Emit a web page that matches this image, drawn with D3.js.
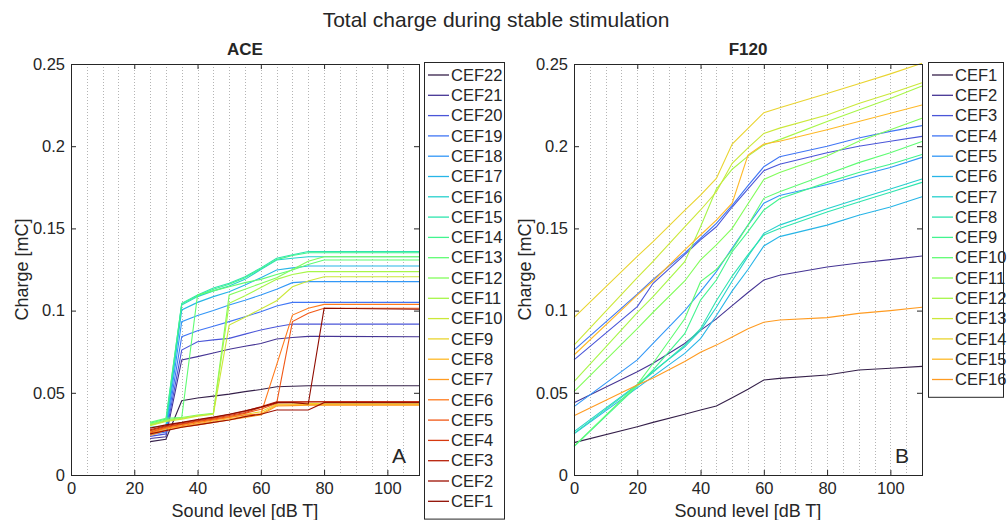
<!DOCTYPE html>
<html>
<head>
<meta charset="utf-8">
<script src="https://cdn.jsdelivr.net/npm/d3@7"></script>
<style>
  body { margin: 0; background: #fff; }
  svg text { font-family: "Liberation Sans", Arial, sans-serif; fill: #262626; }
</style>
</head>
<body>
<div id="chart"></div>
<script>
// ACE: sound levels and total charge per electrode (CEF22 .. CEF1)
const aceLevels = [25, 30, 35, 40, 45, 50, 55, 60, 65, 70, 75, 80, 110];
const aceNames = ['CEF22', 'CEF21', 'CEF20', 'CEF19', 'CEF18', 'CEF17', 'CEF16', 'CEF15', 'CEF14', 'CEF13', 'CEF12',
    'CEF11', 'CEF10', 'CEF9', 'CEF8', 'CEF7', 'CEF6', 'CEF5', 'CEF4', 'CEF3', 'CEF2', 'CEF1'];
const aceCharge = [
    [0.0203, 0.0217, 0.0452, 0.0468, 0.0480, 0.0492, 0.0507, 0.0520, 0.0537, 0.0540, 0.0543, 0.0543, 0.0543],
    [0.0222, 0.0232, 0.0700, 0.0720, 0.0742, 0.0765, 0.0783, 0.0800, 0.0827, 0.0836, 0.0843, 0.0843, 0.0841],
    [0.0235, 0.0250, 0.0760, 0.0811, 0.0822, 0.0831, 0.0857, 0.0882, 0.0902, 0.0918, 0.0918, 0.0918, 0.0918],
    [0.0245, 0.0262, 0.0841, 0.0878, 0.0905, 0.0933, 0.0963, 0.0993, 0.1028, 0.1050, 0.1050, 0.1050, 0.1050],
    [0.0255, 0.0272, 0.0933, 0.0970, 0.1000, 0.1034, 0.1063, 0.1095, 0.1130, 0.1170, 0.1176, 0.1176, 0.1176],
    [0.0265, 0.0285, 0.1004, 0.1050, 0.1085, 0.1115, 0.1155, 0.1200, 0.1247, 0.1260, 0.1271, 0.1271, 0.1271],
    [0.0290, 0.0300, 0.1034, 0.1085, 0.1120, 0.1150, 0.1190, 0.1250, 0.1308, 0.1318, 0.1328, 0.1328, 0.1328],
    [0.0304, 0.0330, 0.1044, 0.1095, 0.1137, 0.1166, 0.1206, 0.1260, 0.1318, 0.1340, 0.1359, 0.1359, 0.1359],
    [0.0315, 0.0340, 0.1040, 0.1090, 0.1130, 0.1160, 0.1200, 0.1255, 0.1310, 0.1335, 0.1352, 0.1352, 0.1352],
    [0.0320, 0.0345, 0.0350, 0.1095, 0.1120, 0.1145, 0.1170, 0.1190, 0.1220, 0.1247, 0.1280, 0.1308, 0.1308],
    [0.0310, 0.0335, 0.0350, 0.0365, 0.0375, 0.1095, 0.1130, 0.1165, 0.1200, 0.1250, 0.1300, 0.1328, 0.1328],
    [0.0305, 0.0330, 0.0345, 0.0360, 0.0372, 0.1044, 0.1090, 0.1140, 0.1190, 0.1220, 0.1237, 0.1237, 0.1237],
    [0.0300, 0.0325, 0.0340, 0.0358, 0.0370, 0.0912, 0.0960, 0.1010, 0.1060, 0.1145, 0.1180, 0.1206, 0.1206],
    [0.0265, 0.0290, 0.0305, 0.0322, 0.0338, 0.0352, 0.0368, 0.0385, 0.0430, 0.0432, 0.0434, 0.0436, 0.0436],
    [0.0250, 0.0280, 0.0295, 0.0312, 0.0328, 0.0342, 0.0357, 0.0372, 0.0425, 0.0427, 0.0428, 0.0428, 0.0428],
    [0.0240, 0.0272, 0.0290, 0.0305, 0.0320, 0.0335, 0.0350, 0.0365, 0.0420, 0.0422, 0.0424, 0.0424, 0.0424],
    [0.0255, 0.0285, 0.0300, 0.0318, 0.0335, 0.0350, 0.0365, 0.0370, 0.0670, 0.0973, 0.1014, 0.1038, 0.1038],
    [0.0260, 0.0290, 0.0308, 0.0325, 0.0340, 0.0356, 0.0375, 0.0400, 0.0436, 0.0933, 0.0984, 0.1014, 0.1014],
    [0.0270, 0.0295, 0.0312, 0.0330, 0.0345, 0.0362, 0.0380, 0.0410, 0.0440, 0.0442, 0.0444, 0.0446, 0.0446],
    [0.0275, 0.0300, 0.0318, 0.0335, 0.0350, 0.0368, 0.0388, 0.0415, 0.0445, 0.0446, 0.0446, 0.0446, 0.0446],
    [0.0250, 0.0270, 0.0290, 0.0305, 0.0320, 0.0335, 0.0355, 0.0370, 0.0395, 0.0395, 0.0395, 0.0440, 0.0440],
    [0.0285, 0.0305, 0.0320, 0.0338, 0.0352, 0.0370, 0.0390, 0.0412, 0.0440, 0.0440, 0.0432, 0.1014, 0.1008]
];

// F120: sound levels and total charge per electrode (CEF1 .. CEF16)
const f120Levels = [0, 20, 25, 35, 40, 45, 50, 55, 60, 65, 80, 90, 100, 110];
const f120Names = ['CEF1', 'CEF2', 'CEF3', 'CEF4', 'CEF5', 'CEF6', 'CEF7', 'CEF8', 'CEF9', 'CEF10', 'CEF11',
    'CEF12', 'CEF13', 'CEF14', 'CEF15', 'CEF16'];
const f120Charge = [
    [0.0197, 0.0294, 0.0320, 0.0370, 0.0395, 0.0420, 0.0470, 0.0522, 0.0578, 0.0588, 0.0608, 0.0639, 0.0649, 0.0661],
    [0.0440, 0.0628, 0.0680, 0.0800, 0.0880, 0.0950, 0.1030, 0.1110, 0.1186, 0.1215, 0.1265, 0.1290, 0.1310, 0.1332],
    [0.0700, 0.1024, 0.1166, 0.1340, 0.1430, 0.1510, 0.1630, 0.1740, 0.1851, 0.1890, 0.1960, 0.2000, 0.2030, 0.2060],
    [0.0760, 0.1100, 0.1190, 0.1350, 0.1440, 0.1530, 0.1640, 0.1760, 0.1875, 0.1936, 0.2000, 0.2050, 0.2090, 0.2125],
    [0.0416, 0.0700, 0.0800, 0.1000, 0.1115, 0.1237, 0.1380, 0.1520, 0.1653, 0.1700, 0.1767, 0.1820, 0.1870, 0.1932],
    [0.0250, 0.0530, 0.0600, 0.0740, 0.0830, 0.0970, 0.1120, 0.1250, 0.1393, 0.1450, 0.1520, 0.1580, 0.1630, 0.1693],
    [0.0264, 0.0550, 0.0630, 0.0780, 0.0880, 0.1020, 0.1180, 0.1330, 0.1470, 0.1520, 0.1620, 0.1680, 0.1740, 0.1800],
    [0.0253, 0.0545, 0.0625, 0.0790, 0.0890, 0.1060, 0.1210, 0.1340, 0.1460, 0.1500, 0.1600, 0.1660, 0.1720, 0.1780],
    [0.0172, 0.0540, 0.0640, 0.0860, 0.1064, 0.1186, 0.1358, 0.1480, 0.1612, 0.1680, 0.1780, 0.1840, 0.1890, 0.1950],
    [0.0175, 0.0550, 0.0680, 0.0950, 0.1176, 0.1250, 0.1370, 0.1520, 0.1683, 0.1723, 0.1830, 0.1900, 0.1960, 0.2028],
    [0.0507, 0.0890, 0.0990, 0.1180, 0.1308, 0.1400, 0.1500, 0.1650, 0.1798, 0.1840, 0.1940, 0.2030, 0.2100, 0.2170],
    [0.0568, 0.0988, 0.1085, 0.1298, 0.1510, 0.1740, 0.1860, 0.1940, 0.2007, 0.2040, 0.2150, 0.2220, 0.2290, 0.2366],
    [0.0790, 0.1200, 0.1300, 0.1510, 0.1612, 0.1723, 0.1896, 0.1990, 0.2078, 0.2110, 0.2190, 0.2260, 0.2320, 0.2386],
    [0.0957, 0.1330, 0.1420, 0.1610, 0.1703, 0.1804, 0.2013, 0.2108, 0.2204, 0.2234, 0.2320, 0.2380, 0.2440, 0.2504],
    [0.0730, 0.1094, 0.1180, 0.1370, 0.1460, 0.1550, 0.1653, 0.1946, 0.2013, 0.2030, 0.2100, 0.2150, 0.2200, 0.2251],
    [0.0360, 0.0547, 0.0590, 0.0690, 0.0746, 0.0790, 0.0840, 0.0890, 0.0929, 0.0943, 0.0957, 0.0983, 0.1000, 0.1020]
];

const xTicks = [0, 20, 40, 60, 80, 100];
const yTicks = [0, 0.05, 0.1, 0.15, 0.2, 0.25];
const gridLevels = d3.range(5, 110, 5);

const width = 1007;
const height = 520;
const svg = d3.select('#chart')
    .append('svg')
        .attr('width', width)
        .attr('height', height)
        .attr('viewBox', [0, 0, width, height]);

svg.append('text')
    .attr('x', 496)
    .attr('y', 27)
    .attr('text-anchor', 'middle')
    .style('font-size', '21px')
    .text('Total charge during stable stimulation');

const plotTop = 64;
const plotBottom = 475;
const frameColor = '#262626';

// turbo colours, first one pulled towards purple like the original colormap
const electrodeColor = i => i === 0 ? '#35204a' : d3.interpolateTurbo(i / 21);

// one panel: frame, grid, axes, lines, legend
function drawPanel(opts) {
    const x = d3.scaleLinear().domain([0, 110]).range([opts.left, opts.right]);
    const y = d3.scaleLinear().domain([0, 0.25]).range([plotBottom, plotTop]);
    const g = svg.append('g');

    g.selectAll('.grid')
        .data(gridLevels)
        .join('line')
            .attr('class', 'grid')
            .attr('x1', d => Math.round(x(d)) + 0.5)
            .attr('x2', d => Math.round(x(d)) + 0.5)
            .attr('y1', plotTop)
            .attr('y2', plotBottom)
            .attr('stroke', '#b4b4b4')
            .attr('stroke-dasharray', '1,2');

    const line = d3.line()
        .x((d, i) => x(opts.levels[i]))
        .y(d => y(d));

    g.selectAll('.series')
        .data(opts.charge)
        .join('path')
            .attr('class', 'series')
            .attr('fill', 'none')
            .attr('stroke', (d, i) => electrodeColor(i))
            .attr('stroke-width', 1.1)
            .attr('d', line);

    const axisStyle = a => a
        .attr('color', frameColor)
        .style('font-size', '16.5px')
        .call(s => s.select('.domain').remove())
        .call(s => s.selectAll('text').style('font-family', '"Liberation Sans", Arial, sans-serif').attr('fill', frameColor));

    g.append('g')
        .attr('transform', `translate(0,${plotBottom})`)
        .call(d3.axisBottom(x).tickValues(xTicks).tickSize(-5).tickPadding(7))
        .call(axisStyle);
    g.append('g')
        .attr('transform', `translate(0,${plotTop})`)
        .call(d3.axisTop(x).tickValues(xTicks).tickSize(-5).tickFormat(''))
        .call(axisStyle);
    g.append('g')
        .attr('transform', `translate(${opts.left},0)`)
        .call(d3.axisLeft(y).tickValues(yTicks).tickSize(-5).tickPadding(6).tickFormat(d3.format('~g')))
        .call(axisStyle);
    g.append('g')
        .attr('transform', `translate(${opts.right},0)`)
        .call(d3.axisRight(y).tickValues(yTicks).tickSize(-5).tickFormat(''))
        .call(axisStyle);

    g.append('rect')
        .attr('x', opts.left + 0.5)
        .attr('y', plotTop + 0.5)
        .attr('width', opts.right - opts.left)
        .attr('height', plotBottom - plotTop)
        .attr('fill', 'none')
        .attr('stroke', frameColor);

    const mid = (opts.left + opts.right) / 2;
    g.append('text')
        .attr('x', mid)
        .attr('y', 55)
        .attr('text-anchor', 'middle')
        .style('font-size', '17px')
        .style('font-weight', 'bold')
        .text(opts.title);
    g.append('text')
        .attr('x', mid)
        .attr('y', 517)
        .attr('text-anchor', 'middle')
        .style('font-size', '18px')
        .text('Sound level [dB T]');
    g.append('text')
        .attr('transform', `translate(${opts.left - 43},${(plotTop + plotBottom) / 2}) rotate(-90)`)
        .attr('text-anchor', 'middle')
        .style('font-size', '18px')
        .text('Charge [mC]');
    g.append('text')
        .attr('x', opts.right - 20)
        .attr('y', 463)
        .attr('text-anchor', 'middle')
        .style('font-size', '21px')
        .text(opts.letter);

    // legend box
    const rowH = 20.3;
    const legend = g.append('g')
        .attr('transform', `translate(${opts.legendX},62)`);
    legend.append('rect')
        .attr('x', 0.5)
        .attr('y', 0.5)
        .attr('width', opts.legendW)
        .attr('height', opts.names.length * rowH + 10)
        .attr('fill', '#fff')
        .attr('stroke', frameColor);
    const rows = legend.selectAll('.entry')
        .data(opts.names)
        .join('g')
            .attr('class', 'entry')
            .attr('transform', (d, i) => `translate(0,${13 + i * rowH})`);
    rows.append('line')
        .attr('x1', 4)
        .attr('x2', 25)
        .attr('stroke', (d, i) => electrodeColor(i))
        .attr('stroke-width', 1.3);
    rows.append('text')
        .attr('x', 27)
        .attr('dy', '0.35em')
        .style('font-size', '16.5px')
        .text(d => d);
}

drawPanel({
    left: 71, right: 419, title: 'ACE', letter: 'A',
    levels: aceLevels, charge: aceCharge, names: aceNames,
    legendX: 424, legendW: 80
});

drawPanel({
    left: 574, right: 922, title: 'F120', letter: 'B',
    levels: f120Levels, charge: f120Charge, names: f120Names,
    legendX: 928, legendW: 75
});
</script>
</body>
</html>
